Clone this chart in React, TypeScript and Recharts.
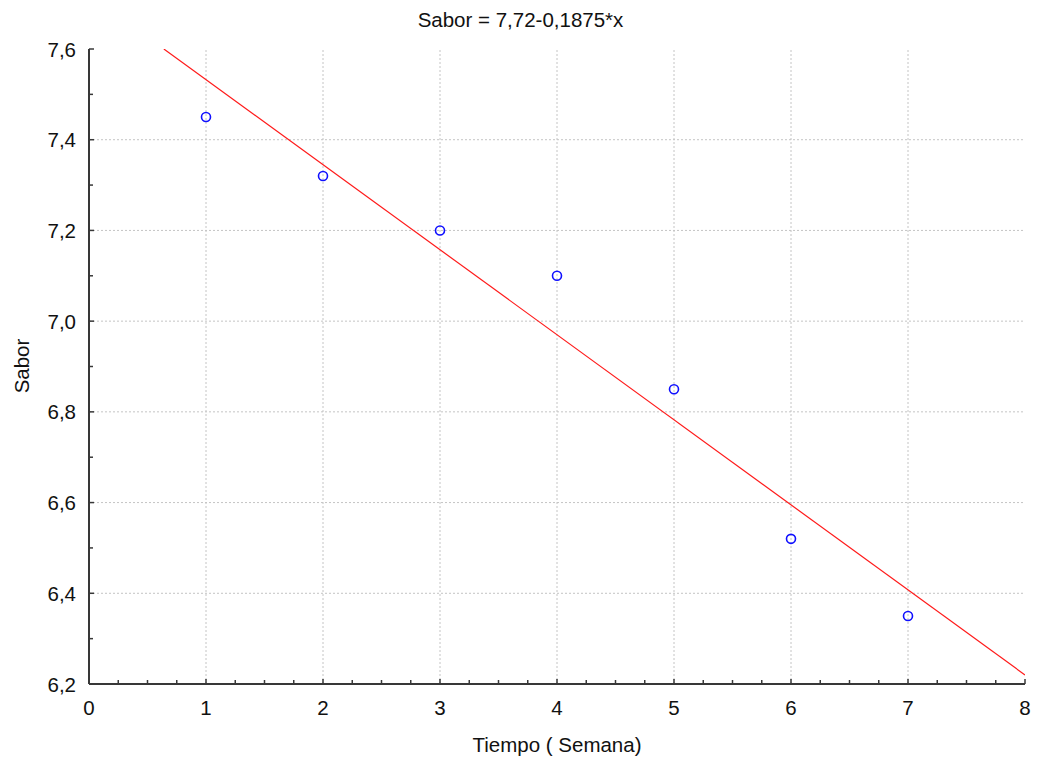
import React from "react";
import { ScatterChart, Scatter, XAxis, YAxis, ReferenceLine } from "recharts";

// Tiempo (semana) vs Sabor
const semanas = [1, 2, 3, 4, 5, 6, 7];
const sabor = [7.45, 7.32, 7.2, 7.1, 6.85, 6.52, 6.35];

// fitted line from the title: Sabor = 7,72 - 0,1875*x
const intercept = 7.72;
const slope = -0.1875;

const xMajor = [0, 1, 2, 3, 4, 5, 6, 7, 8];
const yMajor = [6.2, 6.4, 6.6, 6.8, 7.0, 7.2, 7.4, 7.6];
const xMinorStep = 0.25;
const yMinorStep = 0.1;

const X_MIN = 0;
const X_MAX = 8;
const Y_MIN = 6.2;
const Y_MAX = 7.6;

const xTicks = Array.from(
  { length: Math.round((X_MAX - X_MIN) / xMinorStep) + 1 },
  (_, i) => +(X_MIN + i * xMinorStep).toFixed(2)
);
const yTicks = Array.from(
  { length: Math.round((Y_MAX - Y_MIN) / yMinorStep) + 1 },
  (_, i) => +(Y_MIN + i * yMinorStep).toFixed(1)
);

const points = semanas.map((x, i) => ({ x, y: sabor[i] }));

const fitSegment = [
  { x: (Y_MAX - intercept) / slope, y: Y_MAX },
  { x: X_MAX, y: intercept + slope * X_MAX },
];

const FONT = "'Liberation Sans', Arial, sans-serif";
const FS = 20.5;
const AXIS = "#383838";
const GRID = "#c4c4c4";

const isMajorX = (v: number) => xMajor.some((m) => Math.abs(m - v) < 1e-6);
const isMajorY = (v: number) => yMajor.some((m) => Math.abs(m - v) < 1e-6);

const fmt = (v: number) => v.toFixed(1).replace(".", ",");

const BottomTick = (props: any) => {
  const { x, y, payload } = props;
  const major = isMajorX(payload.value);
  return (
    <g>
      <line x1={x} x2={x} y1={y} y2={y - (major ? 5 : 4)} stroke={AXIS} strokeWidth={1.5} />
      {major && (
        <text x={x} y={y + 31} textAnchor="middle" fontSize={FS} fontFamily={FONT} fill="#111">
          {payload.value}
        </text>
      )}
    </g>
  );
};

const TopTick = (props: any) => {
  const { x, y, payload } = props;
  const major = isMajorX(payload.value);
  return <line x1={x} x2={x} y1={y} y2={y + (major ? 5 : 4)} stroke={AXIS} strokeWidth={1.5} />;
};

const LeftTick = (props: any) => {
  const { x, y, payload } = props;
  const major = isMajorY(payload.value);
  return (
    <g>
      <line x1={x} x2={x + (major ? 5 : 4)} y1={y} y2={y} stroke={AXIS} strokeWidth={1.5} />
      {major && (
        <text x={x - 13} y={y + 7.5} textAnchor="end" fontSize={FS} fontFamily={FONT} fill="#111">
          {fmt(payload.value)}
        </text>
      )}
    </g>
  );
};

const RightTick = (props: any) => {
  const { x, y, payload } = props;
  const major = isMajorY(payload.value);
  return <line x1={x} x2={x - (major ? 5 : 4)} y1={y} y2={y} stroke={AXIS} strokeWidth={1.5} />;
};

const OpenCircle = (props: any) => {
  const { cx, cy } = props;
  return <circle cx={cx} cy={cy} r={4.5} fill="none" stroke="#1010ff" strokeWidth={1.6} />;
};

const textStyle: React.CSSProperties = {
  position: "absolute",
  fontFamily: FONT,
  fontSize: FS,
  lineHeight: "24px",
  color: "#111",
  whiteSpace: "nowrap",
};

export default function App() {
  return (
    <div style={{ position: "absolute", left: 0, top: 0, width: 1041, height: 758, background: "#fff" }}>
      <div style={{ ...textStyle, left: 0, width: 1041, top: 8, textAlign: "center" }}>
        Sabor = 7,72-0,1875*x
      </div>
      <div style={{ ...textStyle, left: 89, width: 936, top: 733, textAlign: "center" }}>
        Tiempo ( Semana)
      </div>
      <div
        style={{
          ...textStyle,
          left: 22,
          top: 366,
          transform: "translate(-50%, -50%) rotate(-90deg)",
        }}
      >
        Sabor
      </div>
      <div style={{ position: "absolute", left: 0, top: 0 }}>
        <ScatterChart width={1041} height={758} margin={{ top: 49, right: 16, bottom: 0, left: 0 }}>
          <XAxis
            xAxisId="b"
            type="number"
            dataKey="x"
            domain={[X_MIN, X_MAX]}
            ticks={xTicks}
            interval={0}
            height={74}
            tickSize={0}
            tickMargin={0}
            tickLine={false}
            tick={<BottomTick />}
            axisLine={{ stroke: AXIS, strokeWidth: 2 }}
            allowDataOverflow
          />
          <XAxis
            xAxisId="t"
            orientation="top"
            type="number"
            domain={[X_MIN, X_MAX]}
            ticks={xTicks}
            interval={0}
            height={0}
            tickSize={0}
            tickMargin={0}
            tickLine={false}
            tick={<TopTick />}
            axisLine={{ stroke: AXIS, strokeWidth: 2 }}
            allowDataOverflow
          />
          <YAxis
            yAxisId="l"
            type="number"
            dataKey="y"
            domain={[Y_MIN, Y_MAX]}
            ticks={yTicks}
            interval={0}
            width={89}
            tickSize={0}
            tickMargin={0}
            tickLine={false}
            tick={<LeftTick />}
            axisLine={{ stroke: AXIS, strokeWidth: 2 }}
            allowDataOverflow
          />
          <YAxis
            yAxisId="r"
            orientation="right"
            type="number"
            domain={[Y_MIN, Y_MAX]}
            ticks={yTicks}
            interval={0}
            width={0}
            tickSize={0}
            tickMargin={0}
            tickLine={false}
            tick={<RightTick />}
            axisLine={{ stroke: AXIS, strokeWidth: 2 }}
            allowDataOverflow
          />
          {xMajor.slice(1, -1).map((v) => (
            <ReferenceLine
              key={`gx${v}`}
              xAxisId="b"
              yAxisId="l"
              x={v}
              stroke={GRID}
              strokeDasharray="2 2"
              strokeWidth={1}
            />
          ))}
          {yMajor.slice(1, -1).map((v) => (
            <ReferenceLine
              key={`gy${v}`}
              xAxisId="b"
              yAxisId="l"
              y={v}
              stroke={GRID}
              strokeDasharray="2 2"
              strokeWidth={1}
            />
          ))}
          <ReferenceLine
            xAxisId="b"
            yAxisId="l"
            segment={fitSegment}
            stroke="#ff1a1a"
            strokeWidth={1.2}
            ifOverflow="hidden"
          />
          <Scatter
            xAxisId="b"
            yAxisId="l"
            data={points}
            shape={<OpenCircle />}
            isAnimationActive={false}
          />
        </ScatterChart>
      </div>
    </div>
  );
}
